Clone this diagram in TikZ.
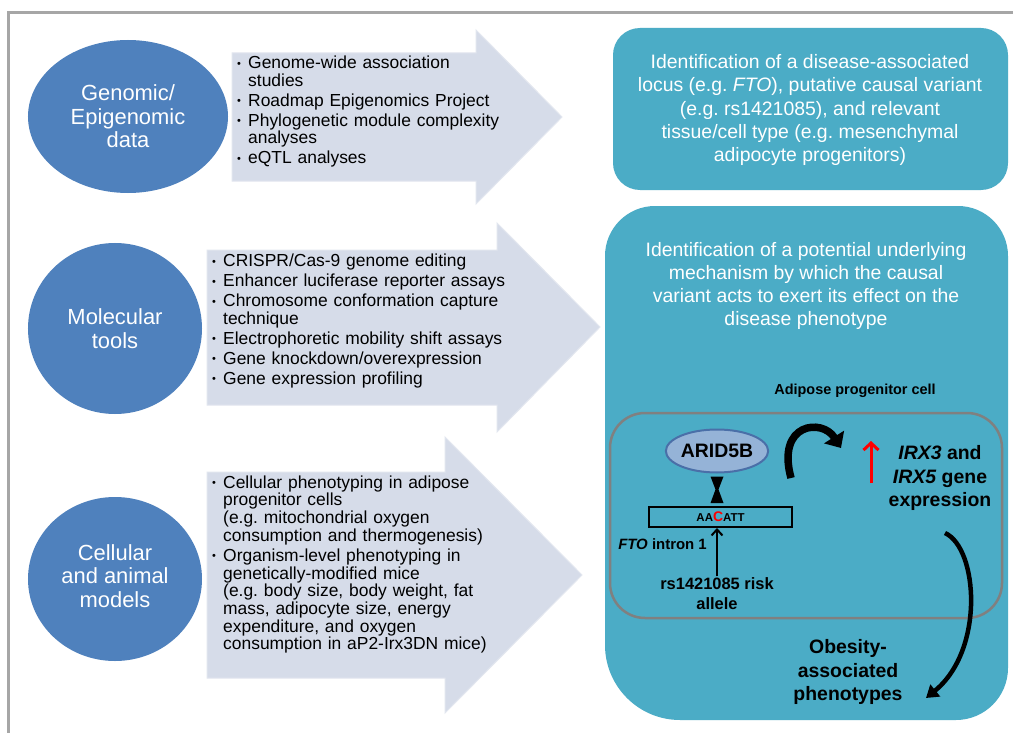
\documentclass[tikz,border=0pt]{standalone}
\usepackage{fontspec}
\setmainfont{Liberation Sans}
\frenchspacing
\usetikzlibrary{arrows.meta,shapes.geometric}
\definecolor{circblue}{HTML}{4F81BD}
\definecolor{boxteal}{HTML}{4BACC6}
\definecolor{arrowfill}{RGB}{214,220,233}
\definecolor{arrowedge}{RGB}{226,230,239}
\definecolor{framegray}{HTML}{A6A6A6}
\definecolor{cellgray}{HTML}{808080}
\definecolor{aridfill}{HTML}{95B3D7}
\definecolor{aridedge}{HTML}{4A6FA8}
\newcommand{\bitem}[1]{\par\noindent\hangindent=11bp\hangafter=1\makebox[11bp][l]{\raisebox{1.5bp}{\fontsize{11}{11}\selectfont\textbullet}}#1}
\tikzset{
  circnode/.style={ellipse, fill=circblue, text=white, align=center, inner sep=0pt,
    font=\fontsize{22}{23.5}\selectfont},
  bigarrow/.style={fill=arrowfill, draw=arrowedge, line width=1bp},
  bullets/.style={anchor=north west, inner sep=0pt,
    font=\fontsize{17.5}{17.8}\selectfont},
  boxtext/.style={text=white, align=center, inner sep=0pt,
    font=\fontsize{19.5}{23.3}\selectfont},
  boldlabel/.style={align=center, inner sep=0pt, font=\bfseries\fontsize{19.5}{23.7}\selectfont},
}
\begin{document}
\begin{tikzpicture}[x=1bp,y=-1bp]
\useasboundingbox (0,0) rectangle (1013,733);
\fill[white] (0,0) rectangle (1013,733);
% frame
\draw[framegray, line width=3bp] (8,733) -- (8,13) -- (1013,13);

% arrows
\draw[bigarrow] (232,53) -- (476,53) -- (476,30) -- (562,117) -- (476,204) -- (476,181) -- (232,181) -- cycle;
\draw[bigarrow] (207,250) -- (497,250) -- (497,223) -- (600,327) -- (497,432) -- (497,405) -- (207,405) -- cycle;
\draw[bigarrow] (207,472) -- (445,472) -- (445,437) -- (582,575) -- (445,713) -- (445,678) -- (207,678) -- cycle;

% circles
\node[circnode, minimum width=200bp, minimum height=153bp] (c1) at (128,116.5) {Genomic/\\Epigenomic\\data};
\node[circnode, minimum width=174bp, minimum height=171bp] (c2) at (115,328.5) {Molecular\\tools};
\node[circnode, minimum width=174bp, minimum height=164bp] (c3) at (115,579) {};
\node[circnode] (c3t) at (115,576) {Cellular\\and animal\\models};

% bullet texts
\node[bullets, text width=300bp] (t1) at (237,48.5) {%
\setlength{\parskip}{2.2bp}\raggedright
\bitem{Genome-wide association\newline studies}
\bitem{Roadmap Epigenomics Project}
\bitem{Phylogenetic module complexity\newline analyses}
\bitem{eQTL analyses}\par};
\node[bullets, text width=300bp] (t2) at (212,246.5) {%
\setlength{\parskip}{2.2bp}\raggedright
\bitem{CRISPR/Cas-9 genome editing}
\bitem{Enhancer luciferase reporter assays}
\bitem{Chromosome conformation capture\newline technique}
\bitem{Electrophoretic mobility shift assays}
\bitem{Gene knockdown/overexpression}
\bitem{Gene expression profiling}\par};
\node[bullets, text width=300bp] (t3) at (212,468) {%
\setlength{\parskip}{2.2bp}\raggedright
\bitem{Cellular phenotyping in adipose\newline progenitor cells\newline (e.g. mitochondrial oxygen\newline consumption and thermogenesis)}
\bitem{Organism-level phenotyping in\newline genetically-modified mice\newline (e.g. body size, body weight, fat\newline mass, adipocyte size, energy\newline expenditure, and oxygen\newline consumption in aP2-Irx3DN mice)}\par};

% right box 1
\fill[boxteal, rounded corners=27bp] (613,28) rectangle (1008,190);
\node[boxtext] (b1) at (810,110) {Identification of a disease-associated\\locus (e.g. \textit{FTO}), putative causal variant\\(e.g. rs1421085), and relevant\\tissue/cell type (e.g. mesenchymal\\adipocyte progenitors)};

% right box 2
\fill[boxteal] (605,256) .. controls (605,228.4) and (627.4,206) .. (655,206)
  -- (958,206) .. controls (985.6,206) and (1008,228.4) .. (1008,256)
  -- (1008,668) .. controls (1008,696.7) and (984.7,720) .. (956,720)
  -- (680,720) .. controls (638.6,720) and (605,686.4) .. (605,645) -- cycle;
\node[boxtext] (b2) at (806,286) {Identification of a potential underlying\\mechanism by which the causal\\variant acts to exert its effect on the\\disease phenotype};

% cell
\node[font=\bfseries\fontsize{14.5}{16}\selectfont, inner sep=0pt] (celllbl) at (855,391) {Adipose progenitor cell};
\draw[cellgray, line width=2.5bp, rounded corners=35bp] (610,413) rectangle (1002,618);

\node[ellipse, fill=aridfill, draw=aridedge, line width=2bp, minimum width=97bp, minimum height=43bp, inner sep=0pt,
  font=\bfseries\fontsize{19.5}{20}\selectfont] (arid) at (717,451) {ARID5B};
\node[draw=black, line width=2bp, minimum width=143bp, minimum height=20bp, inner sep=0pt,
  font=\bfseries\fontsize{11.5}{12}\selectfont] (dna) at (720.5,517) {AA{\color{red}\fontsize{14}{14}\selectfont C}ATT};
% blocked interaction symbol
\fill[black] (710.5,476.5) -- (723.5,476.5) -- (718.5,489.5) -- (723.5,503) -- (710.5,503) -- (715.5,489.5) -- cycle;

\node[anchor=base east, inner sep=0pt, font=\bfseries\fontsize{15}{16}\selectfont] (fto) at (707,549) {\textit{FTO} intron 1};
\node[align=center, inner sep=1.5bp, font=\bfseries\fontsize{16.5}{20}\selectfont] (rs) at (717,594) {rs1421085 risk\\allele};
\draw[line width=2bp, -{Straight Barb[length=6bp,width=11bp]}] (rs.north) -- (rs.north |- dna.south);

% curved arrow to IRX
\coordinate (ca1) at (791,478);
\coordinate (ca2) at (841,448);
\draw[line width=7.5bp, -{Triangle[length=13bp,width=23bp]}] (ca1) .. controls (776,423) and (822,418) .. (ca2);

% red arrow
\coordinate (ra1) at (871,483);
\coordinate (ra2) at (871,441);
\draw[red, line width=3bp, -{Straight Barb[length=7bp,width=15bp]}] (ra1) -- (ra2);

\node[boldlabel] (irx) at (940,478) {\textit{IRX3} and\\\textit{IRX5} gene\\expression};

% long curved arrow
\coordinate (la1) at (945,533);
\coordinate (la2) at (926,698);
\draw[line width=4.5bp, -{Triangle[length=12bp,width=15bp]}] (la1) .. controls (978,548) and (985,650) .. (la2);

\node[boldlabel] (obese) at (848,672) {Obesity-\\associated\\phenotypes};
\end{tikzpicture}
\end{document}
